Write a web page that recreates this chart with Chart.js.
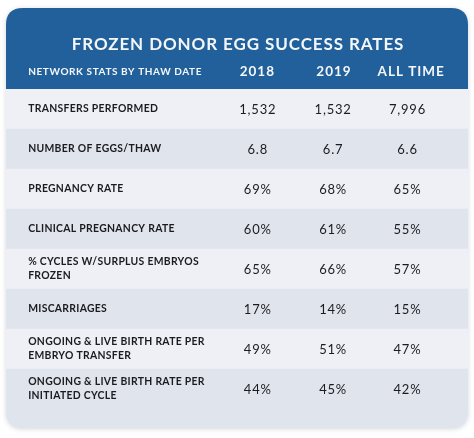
<!DOCTYPE html>
<html>
<head>
<meta charset="utf-8">
<script src="https://cdn.jsdelivr.net/npm/chart.js@4/dist/chart.umd.min.js"></script>
<style>
  html, body { margin: 0; padding: 0; background: #ffffff; }
  #wrap { width: 474px; height: 438px; position: relative; }
</style>
</head>
<body>
<div id="wrap"><canvas id="c"></canvas></div>
<script>
const title = "FROZEN DONOR EGG SUCCESS RATES";
const headerLabel = "NETWORK STATS BY THAW DATE";
const columns = ["2018", "2019", "ALL TIME"];
const rowLabels = [
  ["TRANSFERS PERFORMED"],
  ["NUMBER OF EGGS/THAW"],
  ["PREGNANCY RATE"],
  ["CLINICAL PREGNANCY RATE"],
  ["% CYCLES W/SURPLUS EMBRYOS", "FROZEN"],
  ["MISCARRIAGES"],
  ["ONGOING & LIVE BIRTH RATE PER", "EMBRYO TRANSFER"],
  ["ONGOING & LIVE BIRTH RATE PER", "INITIATED CYCLE"]
];
const rowUnits = ["count", "decimal", "%", "%", "%", "%", "%", "%"];
const values2018 = [1532, 6.8, 69, 60, 65, 17, 49, 44];
const values2019 = [1532, 6.7, 68, 61, 66, 14, 51, 45];
const valuesAllTime = [7996, 6.6, 65, 55, 57, 15, 47, 42];
const columnValues = [values2018, values2019, valuesAllTime];

function fmt(v, unit) {
  if (unit === "count") return v.toLocaleString("en-US");
  if (unit === "decimal") return v.toFixed(1);
  return v + "%";
}

const BLUE = "#21609a";
const ROW_LIGHT = "#eef0f5";
const ROW_DARK = "#e0e4ec";
const TEXT = "#1b1c1f";
const CARD_TOP = 8, CARD_BOTTOM = 428, RADIUS = 17;
const LABEL_X = 0.048;
const VALUE_X = [0.545, 0.708, 0.869];
const HEAD_X = [0.544, 0.71, 0.877];

function roundRectPath(ctx, x, y, w, h, rTop, rBottom) {
  ctx.beginPath();
  ctx.moveTo(x + rTop, y);
  ctx.lineTo(x + w - rTop, y);
  ctx.quadraticCurveTo(x + w, y, x + w, y + rTop);
  ctx.lineTo(x + w, y + h - rBottom);
  ctx.quadraticCurveTo(x + w, y + h, x + w - rBottom, y + h);
  ctx.lineTo(x + rBottom, y + h);
  ctx.quadraticCurveTo(x, y + h, x, y + h - rBottom);
  ctx.lineTo(x, y + rTop);
  ctx.quadraticCurveTo(x, y, x + rTop, y);
  ctx.closePath();
}

const cardPlugin = {
  id: "card",
  beforeDraw(chart) {
    const { ctx, chartArea: a } = chart;
    const w = a.right - a.left;
    ctx.save();
    ctx.shadowColor = "rgba(60,70,90,0.22)";
    ctx.shadowBlur = 5;
    ctx.shadowOffsetY = 1;
    roundRectPath(ctx, a.left, CARD_TOP, w, CARD_BOTTOM - CARD_TOP, RADIUS, RADIUS);
    ctx.fillStyle = ROW_DARK;
    ctx.fill();
    ctx.restore();
    ctx.save();
    roundRectPath(ctx, a.left, CARD_TOP, w, a.top - CARD_TOP + 1, RADIUS, 0);
    ctx.fillStyle = BLUE;
    ctx.fill();
    ctx.restore();
  },
  afterDatasetsDraw(chart) {
    const { ctx, chartArea: a, scales } = chart;
    const xs = scales.x, ys = scales.y;
    ctx.save();
    ctx.textBaseline = "middle";
    // Header
    ctx.fillStyle = "#f4f6f9";
    ctx.textAlign = "center";
    ctx.font = "bold 17px Lato";
    ctx.letterSpacing = "0.9px";
    ctx.fillText(title, (a.left + a.right) / 2 + 1, 45);
    ctx.textAlign = "left";
    ctx.font = "bold 10px Lato";
    ctx.letterSpacing = "0.6px";
    ctx.fillText(headerLabel, xs.getPixelForValue(LABEL_X), 72);
    ctx.textAlign = "center";
    ctx.font = "bold 13.5px Lato";
    ctx.letterSpacing = "1px";
    columns.forEach((c, j) => ctx.fillText(c, xs.getPixelForValue(HEAD_X[j]), 72));
    // Rows
    ctx.fillStyle = TEXT;
    rowLabels.forEach((lines, i) => {
      const y = ys.getPixelForValue(i);
      ctx.textAlign = "left";
      ctx.font = "bold 10.4px Lato";
      ctx.letterSpacing = "0.3px";
      const lh = 14;
      lines.forEach((ln, k) => {
        ctx.fillText(ln, xs.getPixelForValue(LABEL_X), y + (k - (lines.length - 1) / 2) * lh);
      });
      ctx.textAlign = "center";
      ctx.font = "13px Lato";
      ctx.letterSpacing = "0.8px";
      columnValues.forEach((vals, j) => {
        ctx.fillText(fmt(vals[i], rowUnits[i]), xs.getPixelForValue(VALUE_X[j]), y + 1);
      });
    });
    ctx.restore();
  }
};

new Chart(document.getElementById("c"), {
  type: "bar",
  data: {
    labels: rowLabels.map(l => l.join(" ")),
    datasets: [{
      data: rowLabels.map(() => 1),
      backgroundColor: rowLabels.map((_, i) => i % 2 === 0 ? ROW_LIGHT : ROW_DARK),
      borderWidth: 0,
      barPercentage: 1,
      categoryPercentage: 1
    }]
  },
  options: {
    indexAxis: "y",
    responsive: true,
    maintainAspectRatio: false,
    animation: false,
    layout: { padding: { top: 89, bottom: 29, left: 6, right: 6 } },
    plugins: { legend: { display: false }, tooltip: { enabled: false } },
    scales: {
      x: { display: false, min: 0, max: 1 },
      y: { display: false }
    }
  },
  plugins: [cardPlugin]
});
</script>
</body>
</html>
